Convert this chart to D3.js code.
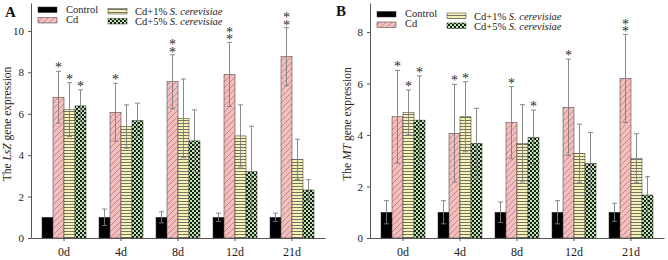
<!DOCTYPE html>
<html>
<head>
<meta charset="utf-8">
<script src="https://cdn.jsdelivr.net/npm/d3@7"></script>
<style>
  body { margin: 0; background: #fff; }
  svg { display: block; }
  svg text, svg tspan { font-family: "Liberation Serif", "Times New Roman", serif !important; }
</style>
</head>
<body>
<div id="chart"></div>
<script>
// Data.
const days = ["0d", "4d", "8d", "12d", "21d"];
const seriesNames = ["Control", "Cd", "Cd+1%", "Cd+5%"];

// Panel A: LsZ
const lszControl = [1, 1, 1, 1, 1];
const lszControlErr = [0, 0.4, 0.27, 0.2, 0.2];
const lszCd = [6.8, 6.07, 7.55, 7.9, 8.76];
const lszCdErr = [1.25, 1.4, 1.3, 1.55, 1.4];
const lszCd1 = [6.2, 5.38, 5.78, 4.93, 3.8];
const lszCd1Err = [1.3, 1.05, 1.9, 1.5, 0.97];
const lszCd5 = [6.38, 5.67, 4.69, 3.2, 2.32];
const lszCd5Err = [0.77, 0.84, 1.5, 2.2, 0.5];
const lszStars = [[0, 0, 0, 0, 0], [1, 1, 2, 2, 2], [1, 0, 0, 0, 0], [1, 0, 0, 0, 0]];
const lszTicks = [0, 2, 4, 6, 8, 10];

// Panel B: MT
const mtControl = [1, 1, 1, 1, 1];
const mtControlErr = [0.45, 0.45, 0.4, 0.45, 0.35];
const mtCd = [4.71, 4.07, 4.48, 5.08, 6.2];
const mtCdErr = [1.8, 1.9, 1.4, 1.87, 1.71];
const mtCd1 = [4.88, 4.71, 3.68, 3.29, 3.1];
const mtCd1Err = [0.87, 1.36, 1.5, 1.13, 0.95];
const mtCd5 = [4.58, 3.68, 3.91, 2.9, 1.67];
const mtCd5Err = [1.72, 1.36, 1.06, 1.2, 0.71];
const mtStars = [[0, 0, 0, 0, 0], [1, 1, 1, 1, 2], [1, 1, 0, 0, 0], [1, 0, 1, 0, 0]];
const mtTicks = [0, 2, 4, 6, 8];

const width = 668;
const height = 260;
const serif = "'Liberation Serif', 'Times New Roman', serif";

const svg = d3.select("#chart")
  .append("svg")
  .attr("width", width)
  .attr("height", height)
  .style("font-family", serif);

// Fill patterns.
const defs = svg.append("defs");

const pCd = defs.append("pattern")
  .attr("id", "pat-cd")
  .attr("patternUnits", "userSpaceOnUse")
  .attr("width", 6).attr("height", 6);
pCd.append("rect").attr("width", 6).attr("height", 6).attr("fill", "#f7bcbc");
pCd.append("path")
  .attr("d", "M0,6 L6,0 M-1.5,1.5 L1.5,-1.5 M4.5,7.5 L7.5,4.5")
  .attr("stroke", "#8c6f6f")
  .attr("stroke-width", 0.6);

const p1 = defs.append("pattern")
  .attr("id", "pat-1")
  .attr("patternUnits", "userSpaceOnUse")
  .attr("width", 4).attr("height", 3);
p1.append("rect").attr("width", 4).attr("height", 3).attr("fill", "#f6f1b4");
p1.append("rect").attr("y", 0).attr("width", 4).attr("height", 0.8).attr("fill", "#555");

const p5 = defs.append("pattern")
  .attr("id", "pat-5")
  .attr("patternUnits", "userSpaceOnUse")
  .attr("width", 4).attr("height", 4);
p5.append("rect").attr("width", 4).attr("height", 4).attr("fill", "#b8e6ac");
p5.append("rect").attr("x", 0).attr("y", 0).attr("width", 2).attr("height", 2).attr("fill", "#1c1c1c");
p5.append("rect").attr("x", 2).attr("y", 2).attr("width", 2).attr("height", 2).attr("fill", "#1c1c1c");

const fills = ["#000", "url(#pat-cd)", "url(#pat-1)", "url(#pat-5)"];

function drawPanel(cfg) {
  const g = svg.append("g");
  const axisX = cfg.left;
  const y0 = 238;

  const x = d3.scaleBand()
    .domain(days)
    .range([axisX, axisX + 294])
    .paddingInner(0.228)
    .paddingOuter(0.193);
  const xSub = d3.scaleBand()
    .domain(seriesNames)
    .range([0, x.bandwidth()]);
  const y = d3.scaleLinear()
    .domain([0, cfg.yMax])
    .range([y0, 3]);

  const rows = [];
  seriesNames.forEach((s, si) => {
    days.forEach((d, di) => {
      rows.push({
        s, si, d,
        v: cfg.means[si][di],
        e: cfg.errs[si][di],
        stars: cfg.stars[si][di]
      });
    });
  });

  // Bars.
  g.selectAll("rect.bar")
    .data(rows)
    .join("rect")
    .attr("class", "bar")
    .attr("x", r => x(r.d) + xSub(r.s))
    .attr("y", r => y(r.v))
    .attr("width", xSub.bandwidth())
    .attr("height", r => y0 - y(r.v))
    .attr("fill", r => fills[r.si])
    .attr("stroke", "#333")
    .attr("stroke-width", 0.5);

  // Error bars.
  const eb = g.selectAll("g.err")
    .data(rows.filter(r => r.e > 0))
    .join("g")
    .attr("class", "err")
    .attr("stroke", "#7d7d7d")
    .attr("stroke-width", 0.9);
  const cx = r => x(r.d) + xSub(r.s) + xSub.bandwidth() / 2;
  eb.append("line")
    .attr("x1", cx).attr("x2", cx)
    .attr("y1", r => y(r.v + r.e))
    .attr("y2", r => y(r.v - r.e));
  eb.append("line")
    .attr("x1", r => cx(r) - 2.5).attr("x2", r => cx(r) + 2.5)
    .attr("y1", r => y(r.v + r.e)).attr("y2", r => y(r.v + r.e));
  eb.append("line")
    .attr("x1", r => cx(r) - 2.5).attr("x2", r => cx(r) + 2.5)
    .attr("y1", r => y(r.v - r.e)).attr("y2", r => y(r.v - r.e));

  // Asterisks: a single one is plain text, a stacked pair is one vertical text.
  rows.filter(r => r.stars === 1).forEach(r => {
    g.append("text")
      .attr("x", cx(r))
      .attr("y", y(r.v + r.e) + 1)
      .attr("text-anchor", "middle")
      .attr("font-size", 14)
      .attr("fill", "#2b2b2b")
      .text("*");
  });
  rows.filter(r => r.stars === 2).forEach(r => {
    g.append("text")
      .attr("x", cx(r))
      .attr("y", y(r.v + r.e) - 17.5)
      .attr("font-size", 14)
      .attr("letter-spacing", -7.4)
      .style("writing-mode", "vertical-rl")
      .style("text-orientation", "upright")
      .attr("fill", "#2b2b2b")
      .text("**");
  });

  // Axes.
  const yAxis = g.append("g")
    .attr("transform", `translate(${axisX},0)`)
    .call(d3.axisLeft(y).tickValues(cfg.ticks).tickSize(3).tickSizeOuter(0).tickPadding(4));
  yAxis.attr("font-family", serif);
  yAxis.selectAll("text").attr("font-size", 11).attr("fill", "#222");

  const xAxis = g.append("g")
    .attr("transform", `translate(0,${y0})`)
    .call(d3.axisBottom(x).tickSize(3).tickSizeOuter(0).tickPadding(6));
  xAxis.attr("font-family", serif);
  xAxis.selectAll("text").attr("font-size", 12).attr("fill", "#222");

  [yAxis, xAxis].forEach(a => {
    a.select(".domain").attr("stroke", "#555");
    a.selectAll(".tick line").attr("stroke", "#555");
  });

  // Axis title.
  const title = g.append("text")
    .attr("transform", `translate(${cfg.titleX},124) rotate(-90)`)
    .attr("text-anchor", "middle")
    .attr("font-size", 11.5)
    .attr("fill", "#222");
  title.append("tspan").text("The ");
  title.append("tspan").attr("font-style", "italic").text(cfg.gene);
  title.append("tspan").text(" gene expression");

  // Panel letter.
  g.append("text")
    .attr("x", cfg.letterX)
    .attr("y", cfg.letterY)
    .attr("font-size", 15)
    .attr("font-weight", "bold")
    .attr("fill", "#111")
    .text(cfg.letter);

  // Legend.
  const dy = cfg.legendDy;
  const items = [
    { i: 0, sx: 7, tx: 35, sy: 7, ty: 12.7, label: ["Control", ""] },
    { i: 1, sx: 7, tx: 35, sy: 17.5, ty: 22.7, label: ["Cd", ""] },
    { i: 2, sx: 77, tx: 104, sy: 8.5, ty: 15, label: ["Cd+1% ", "S. cerevisiae"] },
    { i: 3, sx: 77, tx: 104, sy: 18.5, ty: 25, label: ["Cd+5% ", "S. cerevisiae"] }
  ];
  items.forEach(it => {
    g.append("rect")
      .attr("x", axisX + it.sx)
      .attr("y", it.sy + dy)
      .attr("width", 19)
      .attr("height", 5.5)
      .attr("fill", fills[it.i])
      .attr("stroke", "#333")
      .attr("stroke-width", 0.5);
    const t = g.append("text")
      .attr("x", axisX + it.tx)
      .attr("y", it.ty + dy)
      .attr("font-size", 10.5)
      .attr("fill", "#222");
    t.append("tspan").text(it.label[0]);
    if (it.label[1]) t.append("tspan").attr("font-style", "italic").text(it.label[1]);
  });
}

drawPanel({
  letter: "A", letterX: 5, letterY: 17,
  left: 31, yMax: 11.35, ticks: lszTicks, gene: "LsZ", titleX: 11,
  legendDy: 0,
  means: [lszControl, lszCd, lszCd1, lszCd5],
  errs: [lszControlErr, lszCdErr, lszCd1Err, lszCd5Err],
  stars: lszStars
});

drawPanel({
  letter: "B", letterX: 336, letterY: 16,
  left: 370, yMax: 9.13, ticks: mtTicks, gene: "MT", titleX: 351,
  legendDy: 4.5,
  means: [mtControl, mtCd, mtCd1, mtCd5],
  errs: [mtControlErr, mtCdErr, mtCd1Err, mtCd5Err],
  stars: mtStars
});
</script>
</body>
</html>
